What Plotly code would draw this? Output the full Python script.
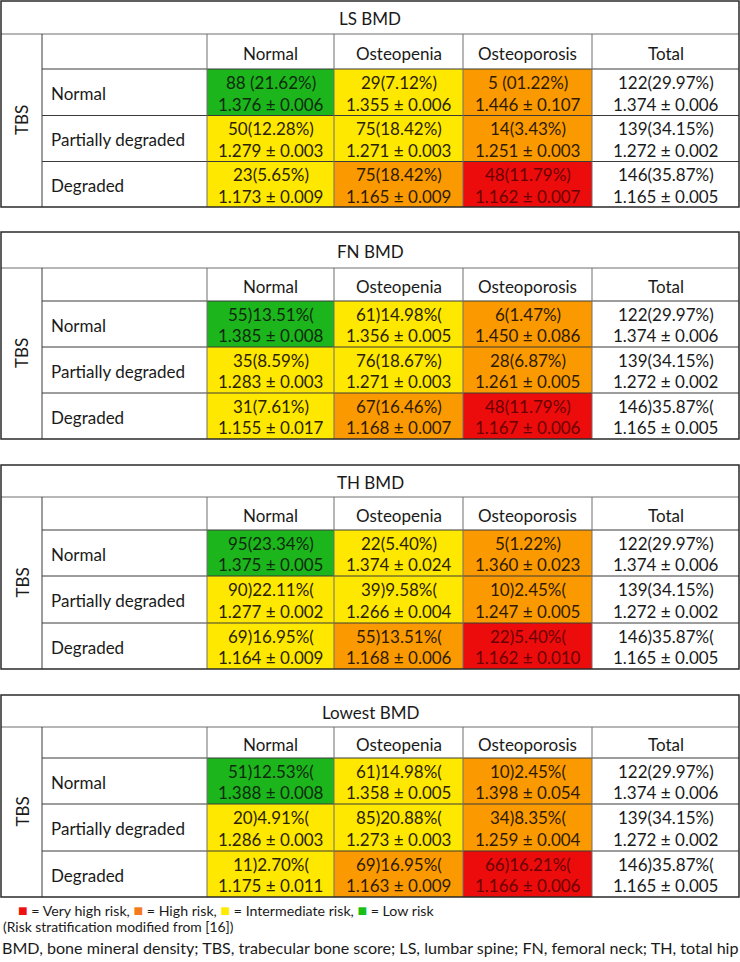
import plotly.graph_objects as go

# ---------------- data ----------------
table_titles = ["LS BMD", "FN BMD", "TH BMD", "Lowest BMD"]
col_headers = ["Normal", "Osteopenia", "Osteoporosis", "Total"]
row_labels = ["Normal", "Partially degraded", "Degraded"]
side_label = "TBS"

# risk level per cell (rows: TBS normal/partially/degraded; cols: BMD normal/osteopenia/osteoporosis)
risk_grid = [["low", "intermediate", "high"],
             ["intermediate", "intermediate", "high"],
             ["intermediate", "high", "very_high"]]

ls_n_pct = [["88 (21.62%)", "29(7.12%)", "5 (01.22%)", "122(29.97%)"],
            ["50(12.28%)", "75(18.42%)", "14(3.43%)", "139(34.15%)"],
            ["23(5.65%)", "75(18.42%)", "48(11.79%)", "146(35.87%)"]]
ls_mean_sd = [["1.376 ± 0.006", "1.355 ± 0.006", "1.446 ± 0.107", "1.374 ± 0.006"],
              ["1.279 ± 0.003", "1.271 ± 0.003", "1.251 ± 0.003", "1.272 ± 0.002"],
              ["1.173 ± 0.009", "1.165 ± 0.009", "1.162 ± 0.007", "1.165 ± 0.005"]]

fn_n_pct = [["55)13.51%(", "61)14.98%(", "6(1.47%)", "122(29.97%)"],
            ["35(8.59%)", "76(18.67%)", "28(6.87%)", "139(34.15%)"],
            ["31(7.61%)", "67(16.46%)", "48(11.79%)", "146)35.87%("]]
fn_mean_sd = [["1.385 ± 0.008", "1.356 ± 0.005", "1.450 ± 0.086", "1.374 ± 0.006"],
              ["1.283 ± 0.003", "1.271 ± 0.003", "1.261 ± 0.005", "1.272 ± 0.002"],
              ["1.155 ± 0.017", "1.168 ± 0.007", "1.167 ± 0.006", "1.165 ± 0.005"]]

th_n_pct = [["95(23.34%)", "22(5.40%)", "5(1.22%)", "122(29.97%)"],
            ["90)22.11%(", "39)9.58%(", "10)2.45%(", "139(34.15%)"],
            ["69)16.95%(", "55)13.51%(", "22)5.40%(", "146)35.87%("]]
th_mean_sd = [["1.375 ± 0.005", "1.374 ± 0.024", "1.360 ± 0.023", "1.374 ± 0.006"],
              ["1.277 ± 0.002", "1.266 ± 0.004", "1.247 ± 0.005", "1.272 ± 0.002"],
              ["1.164 ± 0.009", "1.168 ± 0.006", "1.162 ± 0.010", "1.165 ± 0.005"]]

low_n_pct = [["51)12.53%(", "61)14.98%(", "10)2.45%(", "122(29.97%)"],
             ["20)4.91%(", "85)20.88%(", "34)8.35%(", "139(34.15%)"],
             ["11)2.70%(", "69)16.95%(", "66)16.21%(", "146)35.87%("]]
low_mean_sd = [["1.388 ± 0.008", "1.358 ± 0.005", "1.398 ± 0.054", "1.374 ± 0.006"],
               ["1.286 ± 0.003", "1.273 ± 0.003", "1.259 ± 0.004", "1.272 ± 0.002"],
               ["1.175 ± 0.011", "1.163 ± 0.009", "1.166 ± 0.006", "1.165 ± 0.005"]]

legend_labels = ["Very high risk", "High risk", "Intermediate risk", "Low risk"]
legend_keys = ["very_high", "high", "intermediate", "low"]
note_text = "(Risk stratification modified from [16])"
footnote_text = ("BMD, bone mineral density; TBS, trabecular bone score; LS, lumbar spine; "
                 "FN, femoral neck; TH, total hip")

# ---------------- styles / layout ----------------
FONT = "Lato"
risk_fill = {"low": "#1cb51c", "intermediate": "#ffe800", "high": "#fb9a00", "very_high": "#ec0c0c"}
risk_text = {"low": "#0d2a0d", "intermediate": "#2a2200", "high": "#2e1a00", "very_high": "#6a0000"}
legend_sq = {"low": "#16c016", "intermediate": "#ffea00", "high": "#f57a1e", "very_high": "#ee1111"}

col_x = [1, 42, 207, 334, 463, 592, 739]
table_rows_y = [[1, 34, 69, 115.5, 161.5, 207],
                [232, 268, 301, 347, 393, 439],
                [465, 497, 530, 576, 623, 669],
                [695, 727, 758, 804, 851, 897]]

tables = [(ls_n_pct, ls_mean_sd), (fn_n_pct, fn_mean_sd),
          (th_n_pct, th_mean_sd), (low_n_pct, low_mean_sd)]

W, H = 740, 962
fig = go.Figure()
fig.add_trace(go.Scatter(x=[0, W], y=[0, H], mode="markers",
                         marker=dict(opacity=0), hoverinfo="skip", showlegend=False))

shapes = []
annos = []
LINE = "#3a3a3a"
GRID = "#6e6e6e"
FS = 17

def rect(x0, x1, y0, y1, fill=None, color=GRID, width=1):
    shapes.append(dict(type="rect", xref="x", yref="y", x0=x0, x1=x1, y0=y0, y1=y1,
                       fillcolor=fill if fill else "rgba(0,0,0,0)",
                       line=dict(color=color, width=width), layer="below"))

def line(x0, x1, y0, y1, color=GRID, width=1):
    shapes.append(dict(type="line", xref="x", yref="y", x0=x0, x1=x1, y0=y0, y1=y1,
                       line=dict(color=color, width=width), layer="above"))

def text(x, y, s, size=FS, color="#1a1a1a", xanchor="center", angle=0):
    annos.append(dict(x=x, y=y, xref="x", yref="y", text=s, showarrow=False,
                      xanchor=xanchor, yanchor="middle", textangle=angle,
                      font=dict(family=FONT, size=size, color=color)))

for t, (title, (npct, msd)) in enumerate(zip(table_titles, tables)):
    ry = table_rows_y[t]
    # colored cells
    for r in range(3):
        for c in range(3):
            rect(col_x[2 + c], col_x[3 + c], ry[2 + r], ry[3 + r],
                 fill=risk_fill[risk_grid[r][c]], color="rgba(0,0,0,0)", width=0)
    # grid lines
    line(col_x[0], col_x[-1], ry[1], ry[1], color=GRID)
    for k in (2, 3, 4):
        line(col_x[1], col_x[-1], ry[k], ry[k], color=LINE)
    line(col_x[1], col_x[1], ry[1], ry[5], color=LINE)
    for c in range(2, 6):
        line(col_x[c], col_x[c], ry[1], ry[5], color=GRID)
    # outer border
    shapes.append(dict(type="rect", xref="x", yref="y", x0=col_x[0], x1=col_x[-1],
                       y0=ry[0], y1=ry[5], line=dict(color="#2a2a2a", width=1.5),
                       fillcolor="rgba(0,0,0,0)", layer="above"))
    # title
    text((col_x[0] + col_x[-1]) / 2, (ry[0] + ry[1]) / 2 + 1, title)
    # TBS rotated
    text((col_x[0] + col_x[1]) / 2, (ry[1] + ry[5]) / 2, side_label, angle=-90)
    # headers
    for c, h in enumerate(col_headers):
        text((col_x[2 + c] + col_x[3 + c]) / 2, (ry[1] + ry[2]) / 2 + 1.5, h)
    # rows
    for r in range(3):
        y0, y1 = ry[2 + r], ry[3 + r]
        ym = (y0 + y1) / 2
        text(col_x[1] + 7, ym + 1, row_labels[r], xanchor="left")
        for c in range(4):
            xm = (col_x[2 + c] + col_x[3 + c]) / 2
            col = risk_text[risk_grid[r][c]] if c < 3 else "#1a1a1a"
            text(xm, ym - 9.8, npct[r][c], color=col)
            text(xm, ym + 11.8, msd[r][c], color=col)

# legend line
parts = []
for key, lab in zip(legend_keys, legend_labels):
    parts.append("<span style='color:%s;font-size:16px'>■</span> = %s" % (legend_sq[key], lab))
annos.append(dict(x=16, y=909, xref="x", yref="y", text=", ".join(parts), showarrow=False,
                  xanchor="left", yanchor="middle",
                  font=dict(family=FONT, size=14.2, color="#1a1a1a")))
text(1, 926, note_text, size=13.9, xanchor="left")
text(0, 947, footnote_text, size=16.1, xanchor="left")

fig.update_layout(
    width=W, height=H, margin=dict(l=0, r=0, t=0, b=0),
    paper_bgcolor="white", plot_bgcolor="white",
    xaxis=dict(range=[0, W], visible=False, fixedrange=True),
    yaxis=dict(range=[H, 0], visible=False, fixedrange=True),
    shapes=shapes, annotations=annos, showlegend=False,
)
fig.write_html("out.html", config={"displayModeBar": False},
               post_script="document.body.style.margin='0';document.body.style.overflow='hidden';")
